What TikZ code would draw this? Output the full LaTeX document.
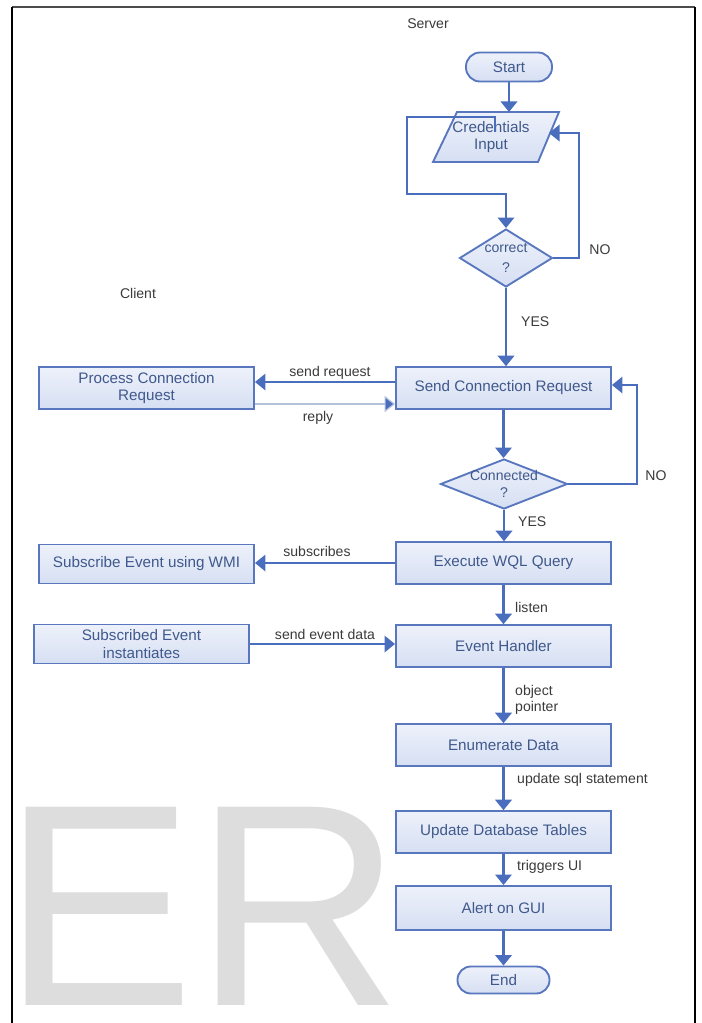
\documentclass[tikz,border=0pt]{standalone}
\usepackage{fontspec}
\setmainfont{Liberation Sans}
\usetikzlibrary{arrows.meta,shapes.geometric,calc}
\definecolor{ln}{HTML}{4A6EBD}
\definecolor{bd}{HTML}{5877BE}
\definecolor{tx}{HTML}{40598C}
\definecolor{lb}{HTML}{3A3A3A}
\definecolor{ftop}{HTML}{EDF1FA}
\definecolor{fbot}{HTML}{D6DFF3}
\definecolor{wm}{HTML}{DDDDDD}
\definecolor{rp}{HTML}{B4C2DE}
\begin{document}
\begin{tikzpicture}[x=0.03cm,y=-0.03cm,
  arr/.style={draw=ln, line width=2pt, -{Triangle[width=14pt,length=9pt]}},
  fillsh/.style={draw=bd, line width=1.6pt, top color=ftop, bottom color=fbot},
  box/.style={fillsh, rectangle, text=tx, font=\fontsize{13}{15}\selectfont, align=center, inner sep=0pt, minimum width=6.45cm, minimum height=1.25cm},
  term/.style={fillsh, rectangle, rounded corners=0.42cm, text=tx, font=\fontsize{13}{15}\selectfont, inner sep=0pt},
  dia/.style={fillsh, diamond, inner sep=0pt},
  lbl/.style={text=lb, font=\fontsize{12}{14}\selectfont, inner sep=0pt, align=center},
  dtxt/.style={text=tx, font=\fontsize{12}{14}\selectfont, align=center, inner sep=0pt}
]
\useasboundingbox (0,0) rectangle (702,1023);
% watermark
\node[anchor=base west, inner sep=0pt, text depth=0pt, text=wm, font=\fontsize{246}{250}\selectfont] (wmk) at (2,1005) {ER};
% frame
\draw[draw=black!70, line width=1.6pt] (12,7) -- (695,7);
\draw[draw=black, line width=2pt] (12,7) -- (12,1023);
\draw[draw=black, line width=2pt] (695,7) -- (695,1023);

% titles
\node[lbl] (server) at (428,24) {Server};
\node[lbl] (client) at (138,293) {Client};

% nodes
\node[term, minimum width=2.58cm, minimum height=0.87cm] (start) at (509,67) {Start};
\path[fillsh] (457,112) -- (559,112) -- (538,162) -- (433,162) -- cycle;
\node[text=tx, font=\fontsize{13}{15}\selectfont, align=center, inner sep=0pt] (cred) at (491,137) {Credentials\\Input};
\coordinate (credtop) at (509,112);
\coordinate (credr) at (549,133);
\coordinate (credin) at (495,132);

\node[dia, minimum width=2.79cm, minimum height=1.74cm, label={[dtxt]center:correct\\[3pt]?}] (correct) at (506,258) {};

\node[box] (send) at (503.5,388) {Send Connection Request};
\node[box] (proc) at (146.5,388) {Process Connection\\Request};

\node[dia, minimum width=3.81cm, minimum height=1.5cm, label={[dtxt]center:Connected\\?}] (conn) at (504,484) {};

\node[box] (exec) at (503.5,563) {Execute WQL Query};
\node[box, minimum height=1.17cm] (subs) at (146.5,564) {Subscribe Event using WMI};
\node[box] (handler) at (503.5,646) {Event Handler};
\node[box, minimum height=1.17cm] (subd) at (141.5,644) {Subscribed Event\\instantiates};
\node[box] (enum) at (503.5,745) {Enumerate Data};
\node[box] (update) at (503.5,832) {Update Database Tables};
\node[box, minimum height=1.32cm] (alert) at (503.5,908) {Alert on GUI};
\node[term, minimum width=2.76cm, minimum height=0.81cm, rounded corners=0.4cm] (end) at (503.5,980) {End};

% connectors
\draw[arr] (start.south) -- (credtop);
\coordinate (l1) at (495,117);
\coordinate (l2) at (407,117);
\coordinate (l3) at (407,194);
\draw[arr] (credin) -- (l1) -- (l2) -- (l3) -| (correct.north);
\coordinate (no1) at (579,133);
\draw[arr] (correct.east) -| (no1) -- (credr);
\node[lbl] (no1lbl) at (600,250) {NO};

\draw[arr] (correct.south) -- (correct.south |- send.north);
\node[lbl, anchor=west] (yes1) at (521,322) {YES};

\draw[arr] ($(send.west)+(0,-6)$) -- ($(proc.east)+(0,-6)$);
\node[lbl] (sreq) at (330,373) {send request};
\draw[draw=rp, line width=1pt, -{Triangle[width=14pt,length=9pt,fill=ln]}] ($(proc.east)+(0,16)$) -- ($(send.west)+(0,16)$);
\node[lbl] (reply) at (318,418) {reply};

\draw[arr] (send.south) -- (send.south |- conn.north);
\coordinate (no2) at (637,385);
\draw[arr] (conn.east) -| (no2) -- (send.east |- no2);
\node[lbl] (no2lbl) at (656,476) {NO};

\draw[arr] (conn.south) -- (conn.south |- exec.north);
\node[lbl, anchor=west] (yes2) at (518,522) {YES};

\draw[arr] (exec.west) -- (exec.west -| subs.east);
\node[lbl] (subsl) at (317,551) {subscribes};

\draw[arr] (exec.south) -- (handler.north);
\node[lbl, anchor=west] (listen) at (515,607) {listen};

\draw[arr] (subd.east) -- (subd.east -| handler.west);
\node[lbl] (sed) at (325,634) {send event data};

\draw[arr] (handler.south) -- (enum.north);
\node[lbl, anchor=west, align=left] (objp) at (515,700) {object\\pointer};

\draw[arr] (enum.south) -- (update.north);
\node[lbl, anchor=west] (usql) at (517,780) {update sql statement};

\draw[arr] (update.south) -- (alert.north);
\node[lbl, anchor=west] (trig) at (517,867) {triggers UI};

\draw[arr] (alert.south) -- (end.north);
\end{tikzpicture}
\end{document}
